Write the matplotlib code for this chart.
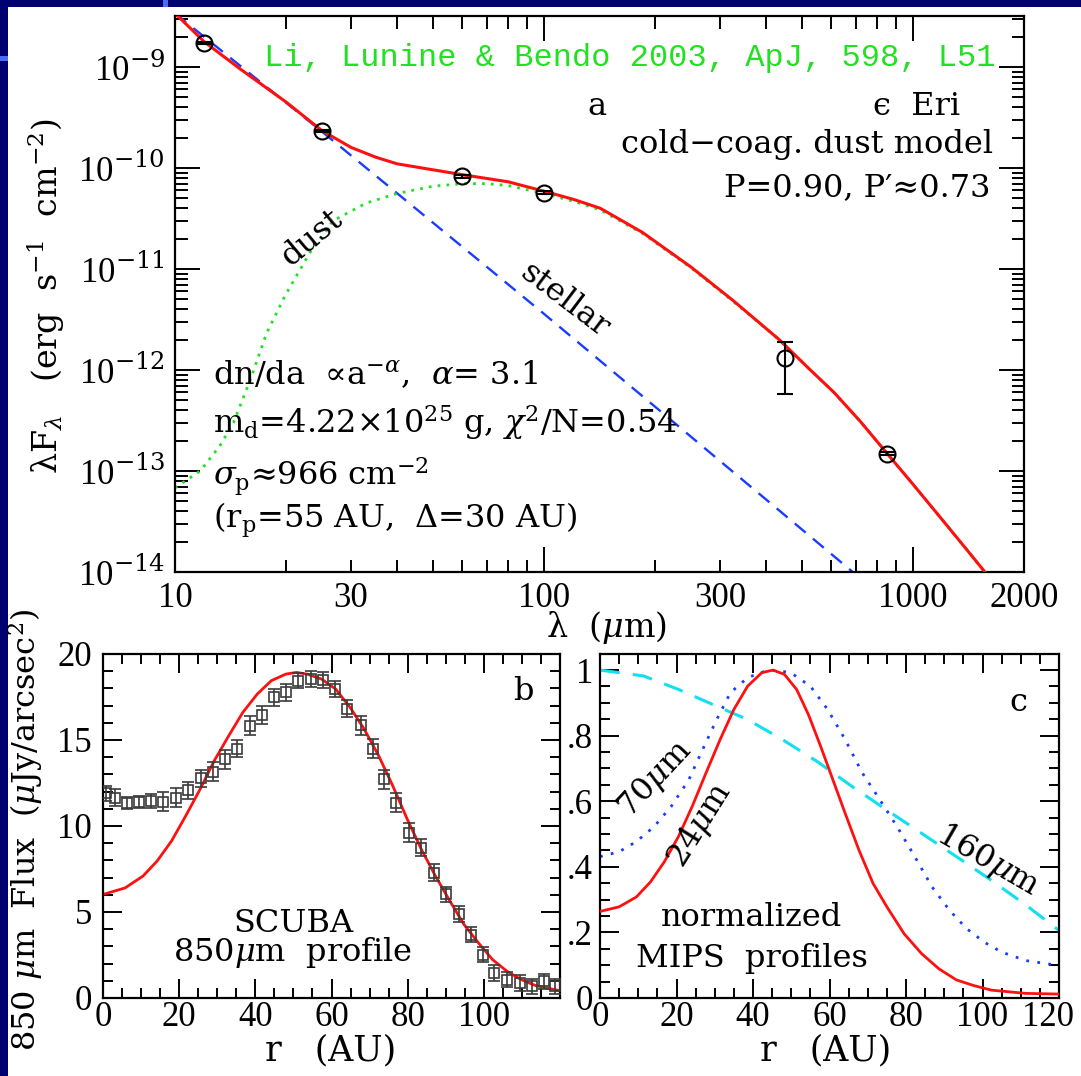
import numpy as np
import matplotlib
matplotlib.use("Agg")
import matplotlib.pyplot as plt
from matplotlib.ticker import (FixedLocator, LogLocator, MultipleLocator,
                               FuncFormatter, NullFormatter)
from matplotlib.patches import Rectangle
from matplotlib.transforms import ScaledTranslation

plt.rcParams["font.family"] = ["DejaVu Serif"]
plt.rcParams["mathtext.fontset"] = "dejavuserif"

# ---- panel a: SED of eps Eri ----
obs_wave = [12, 25, 60, 100, 450, 850]
obs_flux = [1.73e-9, 2.32e-10, 8.3e-11, 5.7e-11, 1.3e-12, 1.48e-13]
obs_err_lo = [0.05e-9, 0.07e-10, 0.25e-11, 0.17e-11, 0.72e-12, 0.045e-13]
obs_err_hi = [0.05e-9, 0.07e-10, 0.25e-11, 0.17e-11, 0.60e-12, 0.045e-13]

star_wave = [10, 25, 100, 687]
star_flux = [3.4e-9, 2.3e-10, 3.6e-12, 1.0e-14]

dust_wave = [10, 11.7, 13.2, 14.4, 16.0, 17.7, 19.9, 23.2, 26.8, 33, 40, 50,
             60, 70, 80, 100, 120, 142, 185, 250, 325, 434, 520, 611, 720, 850,
             1000, 1200, 1400, 1567, 1700]
dust_flux = [6.8e-14, 1.0e-13, 1.75e-13, 3.0e-13, 8.0e-13, 2.3e-12, 5.5e-12,
             1.45e-11, 3.0e-11, 4.5e-11, 5.6e-11, 6.6e-11, 7.0e-11, 7.0e-11,
             6.7e-11, 5.6e-11, 4.7e-11, 3.85e-11, 2.25e-11, 1.03e-11, 4.8e-12,
             2.0e-12, 1.05e-12, 6.0e-13, 3.1e-13, 1.5e-13, 7.4e-14, 3.3e-14,
             1.66e-14, 1.0e-14, 6.9e-15]

model_wave = [10, 12, 15, 20, 25, 30, 35, 40, 50, 60, 80, 100, 120, 142, 185,
              250, 325, 434, 520, 611, 720, 850, 1000, 1200, 1400, 1567, 1700]
model_flux = [3.4e-9, 1.78e-9, 9.6e-10, 4.5e-10, 2.35e-10, 1.6e-10, 1.28e-10,
              1.1e-10, 9.6e-11, 8.6e-11, 7.3e-11, 5.9e-11, 4.9e-11, 4.0e-11,
              2.3e-11, 1.05e-11, 4.9e-12, 2.0e-12, 1.05e-12, 6.0e-13, 3.1e-13,
              1.5e-13, 7.4e-14, 3.3e-14, 1.66e-14, 1.0e-14, 6.9e-15]

# ---- panel b: SCUBA 850um radial profile ----
scuba_r = [0.7, 3.2, 6.3, 9.4, 12.6, 15.8, 19.1, 22.4, 25.8, 29.0, 32.1, 35.3,
           38.6, 41.7, 45.0, 48.0, 51.3, 54.5, 57.8, 60.9, 64.2, 67.7, 70.8,
           73.9, 77.0, 80.3, 83.6, 86.9, 90.0, 93.4, 96.5, 99.7, 102.8, 106.1,
           109.4, 112.7, 115.9, 118.7]
scuba_flux = [11.9, 11.65, 11.36, 11.40, 11.46, 11.40, 11.65, 12.08, 12.78,
              13.15, 13.88, 14.50, 15.83, 16.45, 17.48, 17.77, 18.45, 18.54,
              18.49, 17.96, 16.83, 15.86, 14.50, 12.72, 11.36, 9.61, 8.74,
              7.28, 6.02, 4.89, 3.69, 2.52, 1.46, 1.07, 0.87, 0.68, 0.97, 0.68]
scuba_err = [0.45, 0.5, 0.35, 0.35, 0.4, 0.55, 0.55, 0.5, 0.5, 0.55, 0.55, 0.5,
             0.55, 0.5, 0.5, 0.5, 0.45, 0.45, 0.45, 0.45, 0.5, 0.55, 0.55, 0.55,
             0.55, 0.55, 0.5, 0.5, 0.45, 0.45, 0.45, 0.45, 0.45, 0.45, 0.45,
             0.45, 0.45, 0.45]

scuba_model_r = [0, 5.8, 10.5, 14.2, 18.0, 21.7, 25.5, 29.2, 33.0, 36.7, 40.5,
                 44.2, 48.0, 50.8, 53.6, 57.4, 61.1, 64.9, 68.6, 72.4, 76.1,
                 79.9, 83.6, 87.3, 91.1, 94.8, 98.6, 102.3, 106.1, 109.8, 113.6, 120]
scuba_model = [6.02, 6.4, 7.09, 7.96, 9.13, 10.58, 12.14, 13.79, 15.24, 16.60,
               17.67, 18.45, 18.83, 18.93, 18.83, 18.54, 17.96, 16.89, 15.63,
               14.08, 12.33, 10.39, 8.64, 7.09, 5.63, 4.27, 3.20, 2.23, 1.55,
               1.07, 0.72, 0.42]

# ---- panel c: normalized MIPS profiles ----
mips24_r = [0, 5, 9.5, 13.2, 16.8, 20.5, 24.1, 27.7, 31.4, 35, 38.6, 42.3, 45.2,
            48.2, 51.4, 54.5, 57.7, 60.9, 64.1, 67.7, 71.4, 75, 79.5, 84.1,
            88.6, 93.2, 97.7, 102.3, 111.4, 120]
mips24 = [0.264, 0.278, 0.308, 0.354, 0.415, 0.492, 0.584, 0.686, 0.788, 0.880,
          0.951, 0.992, 1.0, 0.987, 0.941, 0.864, 0.767, 0.665, 0.563, 0.451,
          0.349, 0.278, 0.196, 0.135, 0.089, 0.055, 0.038, 0.024, 0.014, 0.012]

mips70_r = [0, 5, 9.5, 14.1, 18.6, 23.2, 26.8, 30.5, 34.1, 38.6, 43.2, 46.8,
            50.5, 55, 59.5, 64.1, 68.6, 73.2, 77.7, 82.3, 86.8, 91.4, 95.9,
            100.5, 105, 111.4, 120]
mips70 = [0.431, 0.446, 0.477, 0.522, 0.584, 0.665, 0.757, 0.849, 0.931, 0.977,
          0.997, 1.0, 0.987, 0.951, 0.880, 0.788, 0.686, 0.604, 0.522, 0.431,
          0.339, 0.267, 0.211, 0.170, 0.140, 0.114, 0.099]

mips160_r = [0, 11.4, 20.5, 29.5, 38.6, 47.7, 56.8, 65.9, 75, 84.1, 93.2,
             102.3, 111.4, 120]
mips160 = [1.0, 0.982, 0.941, 0.895, 0.849, 0.788, 0.721, 0.645, 0.573, 0.502,
           0.431, 0.359, 0.283, 0.206]

RED = "#ff1010"
GREEN = "#22e022"
BLUE = "#1a3cff"
CYAN = "#10e0f0"
NAVY = "#000070"
FS = 23
TICKFONT = "Liberation Serif"


def style_axes(ax, major_len, minor_len):
    ax.tick_params(which="both", direction="in", top=True, right=True,
                   width=1.4, labelsize=25, labelfontfamily=TICKFONT)
    ax.tick_params(which="major", length=major_len)
    ax.tick_params(which="minor", length=minor_len)
    for s in ax.spines.values():
        s.set_linewidth(1.6)


W, H = 1081, 1076
fig = plt.figure(figsize=(W / 100, H / 100), dpi=100)
fig.patch.set_facecolor(NAVY)
fig.patches.append(Rectangle((8 / W, 0), 1, 1 - 7 / H, transform=fig.transFigure,
                             facecolor="white", edgecolor="none", zorder=-10))
fig.patches.append(Rectangle((163 / W, 1 - 7 / H), 5 / W, 7 / H, transform=fig.transFigure,
                             facecolor="#4a6cf0", edgecolor="none", zorder=-10))
fig.patches.append(Rectangle((0, 1 - 61 / H), 8 / W, 5 / H, transform=fig.transFigure,
                             facecolor="#4a6cf0", edgecolor="none", zorder=-10))


def axes_px(x0, y0, x1, y1):
    a = fig.add_axes([x0 / W, 1 - y1 / H, (x1 - x0) / W, (y1 - y0) / H])
    a.set_facecolor("none")
    return a


# ---------------- panel a ----------------
ax = axes_px(175, 16, 1024, 572)
ax.set_xscale("log")
ax.set_yscale("log")
ax.plot(star_wave, star_flux, color=BLUE, lw=1.7, dashes=(6, 4), zorder=2)
ax.plot(dust_wave, dust_flux, color=GREEN, lw=2.0, linestyle=(0, (1, 2.2)), zorder=2)
ax.plot(model_wave, model_flux, color=RED, lw=2.2, zorder=3)
ax.errorbar(obs_wave, obs_flux, yerr=[obs_err_lo, obs_err_hi], fmt="o", ms=11.5,
            mfc="none", mec="black", mew=1.5, ecolor="black", elinewidth=1.5,
            capsize=5.5, capthick=1.5, zorder=4)
ax.set_xlim(10, 2000)
ax.set_ylim(1e-14, 3.2e-9)
style_axes(ax, 18, 9)
ax.xaxis.set_major_locator(FixedLocator([10, 100, 1000]))
ax.xaxis.set_minor_locator(LogLocator(base=10, subs=np.arange(2, 10), numticks=20))
ax.xaxis.set_major_formatter(FuncFormatter(lambda v, p: f"{v:g}"))
ax.xaxis.set_minor_formatter(FuncFormatter(
    lambda v, p: f"{v:g}" if round(v) in (30, 300, 2000) else ""))
ax.yaxis.set_major_locator(LogLocator(base=10, numticks=20))
ax.yaxis.set_minor_locator(LogLocator(base=10, subs=np.arange(2, 10), numticks=20))
ax.yaxis.set_major_formatter(FuncFormatter(
    lambda v, p: r"10$^{%d}$" % int(round(np.log10(v)))))
ax.yaxis.set_minor_formatter(NullFormatter())
ax.tick_params(axis="x", which="both", pad=7)
ax.tick_params(axis="y", which="both", pad=7)

ax.text(0.966, 0.910, "Li, Lunine & Bendo 2003, ApJ, 598, L51", color=GREEN,
        fontsize=23, family="Liberation Mono", ha="right", va="baseline",
        transform=ax.transAxes)
ax.text(0.497, 0.838, "a", fontsize=FS, ha="center", va="center", transform=ax.transAxes)
ax.text(0.925, 0.838, "\u03f5  Eri", fontsize=FS, ha="right", va="center",
        transform=ax.transAxes)
ax.text(0.9635, 0.768, "cold\u2212coag. dust model", fontsize=FS, ha="right",
        va="center", transform=ax.transAxes)
ax.text(0.960, 0.691, "P=0.90, P\u2032\u22480.73", fontsize=FS, ha="right",
        va="center", transform=ax.transAxes)
ax.text(0.045, 0.354, r"dn/da  ∝a$^{-\alpha}$,  $\alpha$= 3.1", fontsize=FS,
        ha="left", va="center", transform=ax.transAxes)
ax.text(0.045, 0.268, r"m$_\mathrm{d}$=4.22×10$^{25}$ g, $\chi^2$/N=0.54",
        fontsize=FS, ha="left", va="center", transform=ax.transAxes)
ax.text(0.045, 0.171, r"$\sigma_\mathrm{p}$≈966 cm$^{-2}$", fontsize=FS,
        ha="left", va="center", transform=ax.transAxes)
ax.text(0.045, 0.0935, r"(r$_\mathrm{p}$=55 AU,  Δ=30 AU)", fontsize=FS,
        ha="left", va="center", transform=ax.transAxes)
ax.text(0.161, 0.601, "dust", fontsize=FS, rotation=40, ha="center", va="center",
        transform=ax.transAxes)
ax.text(0.459, 0.489, "stellar", fontsize=FS, rotation=-37, ha="center", va="center",
        transform=ax.transAxes)

fig.text(46 / W, 1 - 296 / H, r"λF$_\lambda$   (erg  s$^{-1}$  cm$^{-2}$)",
         fontsize=24, rotation=90, ha="center", va="center")
fig.text(606 / W, 1 - 627 / H, r"λ  ($\mu$m)", fontsize=24,
         ha="center", va="center")

# ---------------- panel b ----------------
bx = axes_px(103, 654, 560, 998)
bx.plot(scuba_model_r, scuba_model, color=RED, lw=2.0, zorder=2)
bx.errorbar(scuba_r, scuba_flux, yerr=scuba_err, fmt="s", ms=7, mfc="none",
            mec="#3a3a3a", mew=1.2, ecolor="#3a3a3a", elinewidth=1.2, capsize=4.5,
            capthick=1.2, zorder=3)
bx.set_xlim(0, 120)
bx.set_ylim(0, 20)
style_axes(bx, 14, 7)
bx.xaxis.set_major_locator(MultipleLocator(20))
bx.xaxis.set_minor_locator(MultipleLocator(5))
bx.yaxis.set_major_locator(MultipleLocator(5))
bx.yaxis.set_minor_locator(MultipleLocator(1))
bx.xaxis.set_major_formatter(FuncFormatter(lambda v, p: "" if v > 110 else f"{v:g}"))
bx.tick_params(axis="x", pad=2)
bx.tick_params(axis="y", pad=8)
bx.text(0.919, 0.890, "b", fontsize=FS, ha="center", va="center", transform=bx.transAxes)
bx.text(0.416, 0.218, "SCUBA", fontsize=FS, ha="center", va="center",
        transform=bx.transAxes)
bx.text(0.416, 0.131, r"850$\mu$m  profile", fontsize=FS, ha="center", va="center",
        transform=bx.transAxes)
fig.text(26 / W, 1 - 830 / H, r"850 $\mu$m  Flux  ($\mu$Jy/arcsec$^2$)", fontsize=23,
         rotation=90, ha="center", va="center")
fig.text(331 / W, 1 - 1050 / H, "r   (AU)", fontsize=25, ha="center", va="center")

# ---------------- panel c ----------------
cx = axes_px(600, 654, 1059, 998)
cx.plot(mips160_r, mips160, color=CYAN, lw=2.2, dashes=(6.5, 4.3), zorder=2)
cx.plot(mips70_r, mips70, color=BLUE, lw=2.0, linestyle=(0, (1, 3)), zorder=2)
cx.plot(mips24_r, mips24, color=RED, lw=2.0, zorder=3)
cx.set_xlim(0, 120)
cx.set_ylim(0, 1.049)
style_axes(cx, 14, 7)
cx.xaxis.set_major_locator(MultipleLocator(20))
cx.xaxis.set_minor_locator(MultipleLocator(5))
cx.yaxis.set_major_locator(FixedLocator([0, 0.2, 0.4, 0.6, 0.8, 1.0]))
cx.yaxis.set_minor_locator(MultipleLocator(0.05))
cx.yaxis.set_major_formatter(FuncFormatter(
    lambda v, p: "0" if v == 0 else ("1" if v == 1 else f"{v:.1f}"[1:])))
cx.tick_params(axis="x", pad=2)
cx.tick_params(axis="y", pad=5)
cx.text(0.911, 0.858, "c", fontsize=FS, ha="center", va="center", transform=cx.transAxes)
cx.text(0.120, 0.634, r"70$\mu$m", fontsize=FS, rotation=47, ha="center",
        va="center", transform=cx.transAxes)
cx.text(0.218, 0.503, r"24$\mu$m", fontsize=FS, rotation=58, ha="center",
        va="center", transform=cx.transAxes)
cx.text(0.845, 0.401, r"160$\mu$m", fontsize=FS, rotation=-30, ha="center",
        va="center", transform=cx.transAxes)
cx.text(0.331, 0.235, "normalized", fontsize=FS, ha="center", va="center",
        transform=cx.transAxes)
cx.text(0.331, 0.116, "MIPS  profiles", fontsize=FS, ha="center", va="center",
        transform=cx.transAxes)
fig.text(826 / W, 1 - 1050 / H, "r   (AU)", fontsize=25, ha="center", va="center")

# nudge the last x label of panel c inside the slide, as in the original
fig.canvas.draw()
for lab in cx.get_xticklabels():
    if lab.get_text() == "120":
        lab.set_transform(lab.get_transform() + ScaledTranslation(-8 / 72, 0, fig.dpi_scale_trans))

fig.savefig("out.png", dpi=100, facecolor=fig.get_facecolor())
